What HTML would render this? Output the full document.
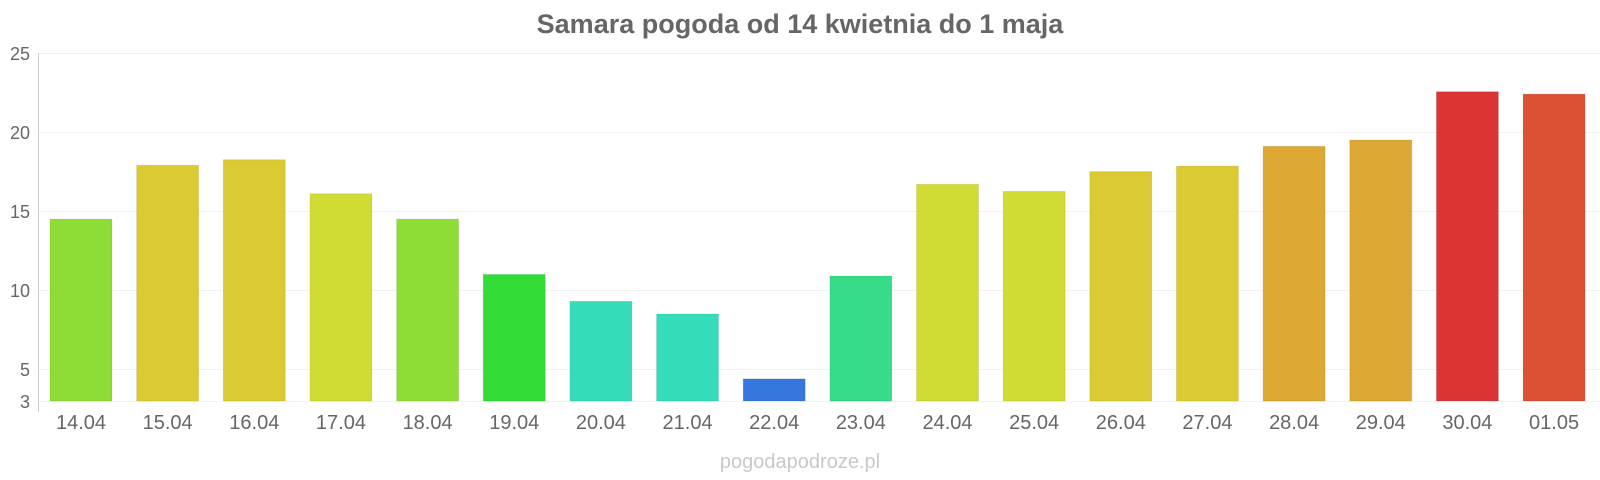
<!DOCTYPE html>
<html><head><meta charset="utf-8"><style>
html,body{margin:0;padding:0;background:#fff;}
svg{display:block;font-family:"Liberation Sans",Arial,sans-serif;}
</style></head><body>
<svg width="1600" height="480" viewBox="0 0 1600 480" xmlns="http://www.w3.org/2000/svg">
<text x="800" y="33" text-anchor="middle" font-size="27" font-weight="bold" fill="#666">Samara pogoda od 14 kwietnia do 1 maja</text>
<g stroke="#f3f3f3" stroke-width="1">
<line x1="38" x2="1600" y1="53.5" y2="53.5"/>
<line x1="38" x2="1600" y1="132.5" y2="132.5"/>
<line x1="38" x2="1600" y1="211.5" y2="211.5"/>
<line x1="38" x2="1600" y1="290.5" y2="290.5"/>
<line x1="38" x2="1600" y1="369.5" y2="369.5"/>
<line x1="38" x2="1600" y1="401.5" y2="401.5"/>
</g>
<line x1="38.5" x2="38.5" y1="53" y2="412" stroke="#ccc" stroke-width="1"/>
<g font-size="18" fill="#666" text-anchor="end">
<text x="30" y="60">25</text>
<text x="30" y="139">20</text>
<text x="30" y="218">15</text>
<text x="30" y="297">10</text>
<text x="30" y="376">5</text>
<text x="30" y="408">3</text>
</g>
<g stroke="rgba(0,0,0,0.08)" stroke-width="1">
<rect x="50" y="219.1" width="62" height="181.9" fill="#8ddd36"/>
<rect x="136.65" y="165.3" width="62" height="235.7" fill="#dcca33"/>
<rect x="223.3" y="159.7" width="62" height="241.3" fill="#dcca33"/>
<rect x="309.95" y="193.8" width="62" height="207.2" fill="#d0dc33"/>
<rect x="396.6" y="219.1" width="62" height="181.9" fill="#8ddd36"/>
<rect x="483.25" y="274.4" width="62" height="126.6" fill="#31dc36"/>
<rect x="569.9" y="301.3" width="62" height="99.7" fill="#35dcba"/>
<rect x="656.55" y="314" width="62" height="87" fill="#35dcba"/>
<rect x="743.2" y="378.9" width="62" height="22.1" fill="#3577dc"/>
<rect x="829.85" y="276" width="62" height="125" fill="#36dc88"/>
<rect x="916.5" y="184.3" width="62" height="216.7" fill="#d0dc33"/>
<rect x="1003.15" y="191.4" width="62" height="209.6" fill="#d0dc33"/>
<rect x="1089.8" y="171.6" width="62" height="229.4" fill="#dcca33"/>
<rect x="1176.45" y="166.1" width="62" height="234.9" fill="#dcca33"/>
<rect x="1263.1" y="146.3" width="62" height="254.7" fill="#dca833"/>
<rect x="1349.75" y="140" width="62" height="261" fill="#dca833"/>
<rect x="1436.4" y="91.7" width="62" height="309.3" fill="#dc3333"/>
<rect x="1523.05" y="94.1" width="62" height="306.9" fill="#dc5133"/>
</g>
<g font-size="20" fill="#666" text-anchor="middle">
<text x="81" y="429">14.04</text>
<text x="167.65" y="429">15.04</text>
<text x="254.3" y="429">16.04</text>
<text x="340.95" y="429">17.04</text>
<text x="427.6" y="429">18.04</text>
<text x="514.25" y="429">19.04</text>
<text x="600.9" y="429">20.04</text>
<text x="687.55" y="429">21.04</text>
<text x="774.2" y="429">22.04</text>
<text x="860.85" y="429">23.04</text>
<text x="947.5" y="429">24.04</text>
<text x="1034.15" y="429">25.04</text>
<text x="1120.8" y="429">26.04</text>
<text x="1207.45" y="429">27.04</text>
<text x="1294.1" y="429">28.04</text>
<text x="1380.75" y="429">29.04</text>
<text x="1467.4" y="429">30.04</text>
<text x="1554.05" y="429">01.05</text>
</g>
<text x="800" y="468" text-anchor="middle" font-size="20" fill="#c8c8c8">pogodapodroze.pl</text>
</svg>
</body></html>
